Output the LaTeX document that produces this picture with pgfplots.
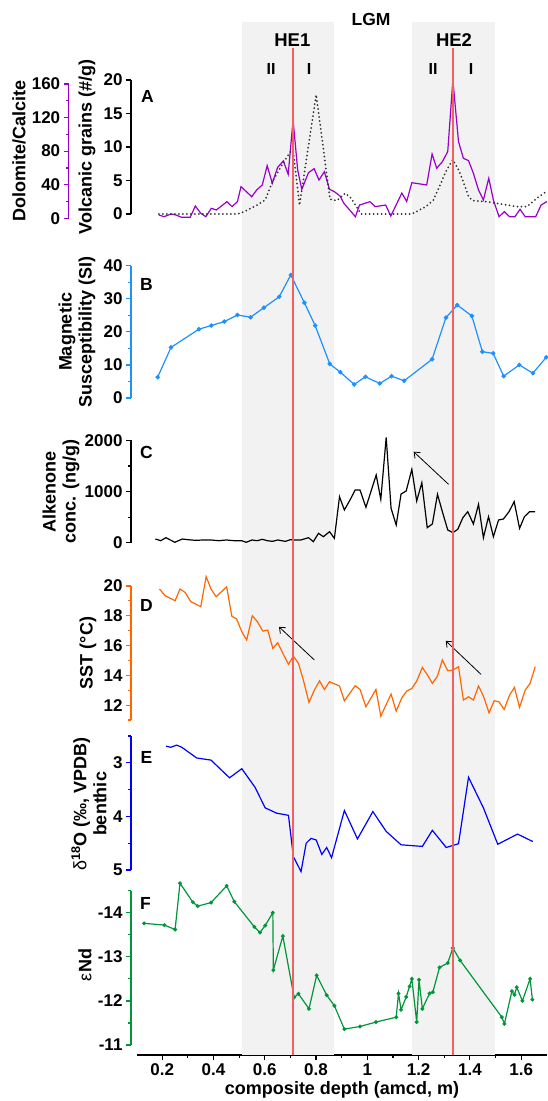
\documentclass[border=0pt]{standalone}
\usepackage{pgfplots}
\pgfplotsset{compat=1.18}
\usepackage{fontspec}
\setmainfont{Liberation Sans}
\usetikzlibrary{arrows.meta}
\definecolor{cpurple}{RGB}{153,0,204}
\definecolor{cltblue}{RGB}{30,144,255}
\definecolor{corange}{RGB}{255,102,0}
\definecolor{cblue}{RGB}{0,0,255}
\definecolor{cgreen}{RGB}{0,150,57}
\definecolor{band}{RGB}{242,242,242}
\definecolor{cred}{RGB}{245,95,95}
\definecolor{cdot}{RGB}{50,50,50}
\newcommand{\tfont}{\bfseries\fontsize{17}{17}\selectfont}
\newcommand{\lfont}{\bfseries\fontsize{18}{20}\selectfont}
\pgfplotsset{
 panel/.style={
  scale only axis, width=416pt, xmin=0.078, xmax=1.7,
  anchor=south west, clip=false,
  axis x line=none, axis y line*=left, ytick pos=left,
  tick align=outside, major tick length=5pt, minor tick length=3pt,
  y axis line style={-, line width=1.2pt, #1},
  ytick style={line width=1.2pt, #1},
  minor y tick style={line width=1.2pt, #1},
  yticklabel style={font=\tfont, black, /pgf/number format/assume math mode=true, /pgf/number format/1000 sep={}},
 }
}
\begin{document}
\begin{tikzpicture}
\useasboundingbox (0,0) rectangle (547pt,1101pt);
% background: bands, x axis
\begin{axis}[scale only axis, width=410.2pt, height=1033pt, at={(136.6pt,46pt)}, anchor=south west,
 xmin=0.1, xmax=1.7, ymin=0, ymax=1, axis y line=none, axis x line*=bottom, clip=false,
 x axis line style={-, line width=1.2pt}, xtick={0.2,0.4,0.6,0.8,1.0,1.2,1.4,1.6},
 xticklabels={0.2,0.4,0.6,0.8,1,1.2,1.4,1.6}, minor x tick num=1, xtick pos=bottom,
 tick align=outside, major tick length=5pt, minor tick length=3pt,
 xtick style={line width=1.2pt, black}, minor x tick style={line width=1.2pt, black},
 xticklabel style={font=\tfont}]
\addplot[fill=band, draw=none] coordinates {(0.512,1) (0.870,1)} \closedcycle;
\addplot[fill=band, draw=none] coordinates {(1.174,1) (1.499,1)} \closedcycle;
\coordinate (ra) at (axis cs:0.71,0);
\coordinate (rb) at (axis cs:0.71,0.975);
\coordinate (rc) at (axis cs:1.335,0);
\coordinate (rd) at (axis cs:1.335,0.975);
\end{axis}
% Panel A: Dolomite/Calcite (purple axis)
\begin{axis}[panel=cpurple, width=478.3pt, xmin=-0.1648, height=134.3pt, at={(68.7pt,882.7pt)},
 ymin=0, ymax=160, ytick={0,40,80,120,160}, minor ytick={20,60,100,140}]
\addplot[cpurple, line width=1.2pt] coordinates {
(0.187,3.9)(0.207,1.9)(0.234,5.1)(0.254,3.9)(0.275,1.2)(0.309,1.2)(0.329,14.7)(0.350,5.9)(0.370,1.9)(0.391,11.9)(0.411,9.9)(0.452,19.8)(0.472,13.9)(0.493,19.8)(0.507,37.7)(0.549,25.7)(0.568,33.7)(0.590,39.7)(0.609,62.7)(0.629,41.7)(0.650,60.7)(0.672,68.3)(0.691,52.4)(0.710,117.1)(0.728,57.5)(0.744,34.5)(0.770,54.3)(0.792,59.1)(0.811,45.6)(0.832,55.5)(0.852,34.5)(0.871,31.7)(0.893,26.6)(0.908,17.9)(0.953,1.9)(0.969,15.8)(1.010,19.8)(1.030,13.9)(1.071,15.8)(1.091,2.7)(1.134,30)(1.153,20)(1.173,42.4)(1.231,39.7)(1.252,76.6)(1.270,59.6)(1.292,67.5)(1.313,79.4)(1.333,164.8)(1.355,91.3)(1.374,71.5)(1.394,68.7)(1.413,53.6)(1.433,33.7)(1.452,21.8)(1.473,47.7)(1.491,21.8)(1.513,1.9)(1.534,7.9)(1.554,1.9)(1.575,1.9)(1.595,10.7)(1.615,1.9)(1.656,1.9)(1.677,15.8)(1.70,20)};
\end{axis}
% Panel A: volcanic grains (black axis)
\begin{axis}[panel=black, height=134pt, at={(131pt,887pt)},
 ymin=0, ymax=20, ytick={0,5,10,15,20}]
\addplot[cdot, line width=2pt, line cap=round, dash pattern=on 0pt off 4pt] coordinates {
(0.187,0)(0.493,0)(0.520,0.35)(0.568,1.3)(0.601,2.1)(0.633,5.1)(0.679,8.1)(0.709,9.8)(0.735,1.3)(0.800,17.8)(0.854,2.2)(0.880,2.0)(0.914,3.1)(0.935,2.4)(0.975,0)(1.173,0)(1.228,1.1)(1.257,2.1)(1.283,4.3)(1.309,6.6)(1.333,8.1)(1.355,6.6)(1.374,4.8)(1.394,2.6)(1.410,2.0)(1.472,1.8)(1.581,1.1)(1.622,1.1)(1.669,2.6)(1.70,3.4)};
\end{axis}
% Panel B
\begin{axis}[panel=cltblue, height=132.3pt, at={(131pt,703pt)},
 ymin=0, ymax=40, ytick={0,10,20,30,40}, minor ytick={5,15,25,35}]
\addplot[cltblue, line width=1.2pt, mark=*, mark size=1.6pt] coordinates {
(0.182,6.3)(0.234,15.3)(0.343,20.8)(0.391,21.9)(0.442,23.1)(0.493,25.1)(0.544,24.4)(0.596,27.3)(0.656,30.6)(0.701,37.2)(0.754,28.8)(0.796,21.9)(0.853,10.3)(0.894,7.8)(0.948,4.1)(0.992,6.4)(1.048,4.4)(1.094,6.6)(1.143,5.2)(1.252,11.7)(1.306,24.3)(1.350,28.1)(1.407,24.8)(1.448,14.0)(1.490,13.5)(1.531,6.6)(1.592,10.0)(1.645,7.5)(1.697,12.3)};
\end{axis}
% Panel C
\begin{axis}[panel=black, height=102.2pt, at={(131pt,558.3pt)},
 ymin=0, ymax=2000, ytick={0,1000,2000}, minor ytick={500,1500}]
\addplot[black, line width=1.2pt] coordinates {
(0.173,72)(0.194,39)(0.214,98)(0.249,8)(0.278,72)(0.30,59)(0.33,46)(0.36,53)(0.39,53)(0.42,39)(0.45,53)(0.48,39)(0.51,39)(0.527,8)(0.55,53)(0.57,39)(0.59,66)(0.61,39)(0.63,26)(0.65,53)(0.68,26)(0.70,59)(0.711,53)(0.74,53)(0.770,98)(0.789,20)(0.809,184)(0.828,117)(0.852,215)(0.871,86)(0.891,900)(0.910,640)(0.932,836)(0.952,1031)(0.971,1031)(0.994,692)(1.034,1325)(1.052,849)(1.073,2062)(1.092,673)(1.112,346)(1.131,953)(1.151,1012)(1.173,1436)(1.192,816)(1.212,1174)(1.233,294)(1.253,366)(1.273,947)(1.292,607)(1.313,249)(1.333,196)(1.352,262)(1.372,489)(1.391,607)(1.413,366)(1.433,751)(1.452,98)(1.472,509)(1.491,117)(1.511,444)(1.530,464)(1.552,607)(1.572,803)(1.593,281)(1.612,509)(1.632,607)(1.654,607)};
\draw[-{Straight Barb[length=5pt,width=8pt]}, line width=0.8pt] (axis cs:1.316,1143) -- (axis cs:1.180,1781);
\end{axis}
% Panel D
\begin{axis}[panel=corange, height=134pt, at={(131pt,381pt)},
 ymin=11, ymax=20, ytick={12,14,16,18,20}, minor ytick={11,13,15,17,19}]
\addplot[corange, line width=1.2pt] coordinates {
(0.189,19.80)(0.211,19.35)(0.250,19.01)(0.269,19.80)(0.289,19.57)(0.311,18.95)(0.350,18.61)(0.371,20.63)(0.390,19.80)(0.410,19.28)(0.451,19.95)(0.471,17.98)(0.490,17.78)(0.510,16.93)(0.529,16.37)(0.551,18.00)(0.571,17.60)(0.592,16.97)(0.611,17.04)(0.631,15.81)(0.650,16.19)(0.672,15.41)(0.692,14.74)(0.711,15.29)(0.731,14.80)(0.750,13.68)(0.772,12.18)(0.793,13.01)(0.813,13.63)(0.832,13.05)(0.852,13.57)(0.891,13.28)(0.910,12.29)(0.952,13.30)(0.971,13.05)(0.994,11.89)(1.033,13.05)(1.052,11.26)(1.092,12.74)(1.112,11.60)(1.134,12.49)(1.153,12.94)(1.173,13.12)(1.192,13.61)(1.214,14.53)(1.234,14.02)(1.253,13.46)(1.273,13.95)(1.292,15.03)(1.313,14.31)(1.333,14.35)(1.355,14.58)(1.374,12.34)(1.394,12.56)(1.413,12.34)(1.433,13.28)(1.452,12.61)(1.474,11.48)(1.494,12.29)(1.513,12.22)(1.533,11.71)(1.554,12.67)(1.573,13.19)(1.593,11.85)(1.615,13.01)(1.634,13.46)(1.654,14.58)};
\draw[-{Straight Barb[length=5pt,width=8pt]}, line width=0.8pt] (axis cs:0.793,15.03) -- (axis cs:0.655,17.26);
\draw[-{Straight Barb[length=5pt,width=8pt]}, line width=0.8pt] (axis cs:1.443,14.06) -- (axis cs:1.305,16.32);
\end{axis}
% Panel E
\begin{axis}[panel=cblue, height=134pt, at={(131pt,231pt)}, y dir=reverse,
 ymin=2.5, ymax=5, ytick={3,4,5}, minor ytick={2.5,3.5,4.5}]
\addplot[cblue, line width=1.2pt] coordinates {
(0.215,2.69)(0.233,2.71)(0.256,2.67)(0.276,2.71)(0.334,2.91)(0.390,2.95)(0.462,3.28)(0.510,3.11)(0.562,3.46)(0.601,3.84)(0.646,3.94)(0.692,3.98)(0.711,4.75)(0.741,5.03)(0.761,4.50)(0.780,4.41)(0.800,4.44)(0.822,4.71)(0.841,4.58)(0.860,4.77)(0.910,3.89)(0.961,4.42)(1.021,3.91)(1.073,4.28)(1.131,4.53)(1.214,4.56)(1.253,4.26)(1.307,4.58)(1.355,4.51)(1.394,3.27)(1.452,3.84)(1.508,4.52)(1.585,4.33)(1.645,4.47)};
\end{axis}
% Panel F
\begin{axis}[panel=cgreen, height=154.3pt, at={(131pt,56pt)}, y dir=reverse,
 ymin=-14.5, ymax=-11, ytick={-14,-13,-12,-11}, minor ytick={-14.5,-13.5,-12.5,-11.5}]
\addplot[cgreen, line width=1.2pt, mark=*, mark size=1.3pt] coordinates {
(0.129,-13.76)(0.208,-13.72)(0.250,-13.62)(0.269,-14.67)(0.319,-14.24)(0.338,-14.15)(0.390,-14.23)(0.451,-14.61)(0.481,-14.25)(0.559,-13.68)(0.581,-13.55)(0.601,-13.71)(0.631,-14.00)(0.633,-12.70)(0.670,-13.47)(0.714,-12.08)(0.731,-12.16)(0.772,-11.82)(0.802,-12.58)(0.841,-12.13)(0.871,-11.89)(0.910,-11.36)(0.971,-11.42)(1.033,-11.52)(1.112,-11.63)(1.121,-12.17)(1.131,-11.80)(1.151,-12.09)(1.164,-12.33)(1.173,-12.50)(1.192,-11.52)(1.201,-12.48)(1.214,-11.82)(1.242,-12.17)(1.255,-12.20)(1.281,-12.76)(1.313,-12.86)(1.333,-13.20)(1.361,-12.92)(1.524,-11.63)(1.534,-11.48)(1.563,-12.22)(1.573,-12.14)(1.582,-12.31)(1.604,-12.00)(1.634,-12.50)(1.643,-12.03)};
\end{axis}
% red reference lines, drawn over the data
\draw[cred, line width=1.6pt] (ra) -- (rb);
\draw[cred, line width=1.6pt] (rc) -- (rd);
% texts
\node[font=\bfseries\fontsize{17.5}{17.5}\selectfont] at (371pt,1081.5pt) {LGM};
\node[font=\bfseries\fontsize{18.5}{18.5}\selectfont] at (292.3pt,1061pt) {HE1};
\node[font=\bfseries\fontsize{18.5}{18.5}\selectfont] at (454pt,1061pt) {HE2};
\node[font=\bfseries\fontsize{16}{16}\selectfont] at (271pt,1032pt) {II};
\node[font=\bfseries\fontsize{16}{16}\selectfont] at (309pt,1032pt) {I};
\node[font=\bfseries\fontsize{16}{16}\selectfont] at (433pt,1032pt) {II};
\node[font=\bfseries\fontsize{16}{16}\selectfont] at (471pt,1032pt) {I};
\node[font=\bfseries\fontsize{17.5}{17.5}\selectfont] at (147.5pt,1004.3pt) {A};
\node[font=\bfseries\fontsize{17.5}{17.5}\selectfont] at (146.5pt,817pt) {B};
\node[font=\bfseries\fontsize{17.5}{17.5}\selectfont] at (146.5pt,648.3pt) {C};
\node[font=\bfseries\fontsize{17.5}{17.5}\selectfont] at (146.5pt,495.5pt) {D};
\node[font=\bfseries\fontsize{17.5}{17.5}\selectfont] at (146.5pt,344pt) {E};
\node[font=\bfseries\fontsize{17.5}{17.5}\selectfont] at (145.5pt,198pt) {F};
\node[rotate=90, font=\lfont] at (19pt,950pt) {Dolomite/Calcite};
\node[rotate=90, font=\lfont] at (87pt,954pt) {Volcanic grains (\#/g)};
\node[rotate=90, font=\lfont, align=center] at (77pt,769pt) {Magnetic\\Susceptibility (SI)};
\node[rotate=90, font=\lfont, align=center] at (61pt,609.4pt) {Alkenone\\conc. (ng/g)};
\node[rotate=90, font=\lfont] at (88pt,448pt) {SST (°C)};
\node[rotate=90, font=\lfont, align=center] at (89pt,297pt) {{\mdseries δ}\textsuperscript{18}O (‰, VPDB)\\benthic};
\node[rotate=90, font=\lfont] at (85pt,136pt) {{\mdseries ε}Nd};
\node[font=\lfont] at (342pt,11pt) {composite depth (amcd, m)};
\end{tikzpicture}
\end{document}
